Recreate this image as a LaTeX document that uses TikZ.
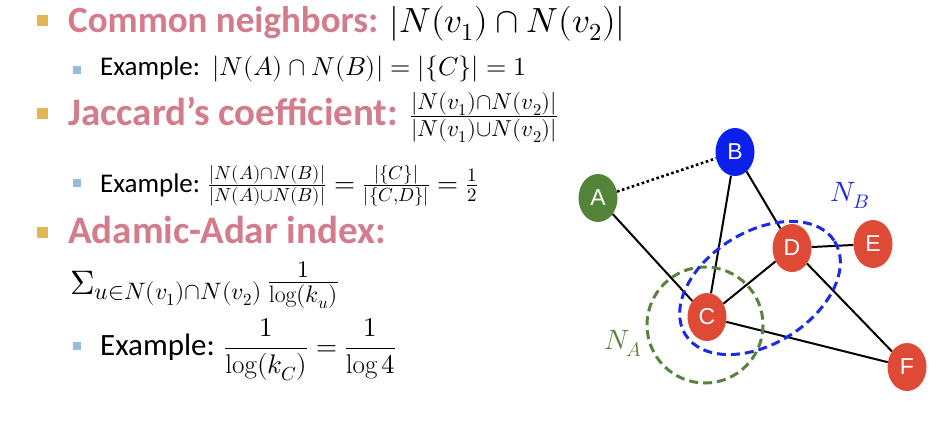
\documentclass[tikz,border=0pt]{standalone}
\usepackage{fontspec}
\usepackage{unicode-math}
\newfontfamily\slidefont{Carlito}
\newfontfamily\vertexfont{Liberation Sans}
\usetikzlibrary{shapes.geometric,positioning}

\definecolor{headpink}{RGB}{211,125,140}
\definecolor{bulletgold}{RGB}{226,182,82}
\definecolor{bulletblue}{RGB}{145,192,212}
\definecolor{vgreen}{RGB}{84,132,56}
\definecolor{vblue}{RGB}{12,32,236}
\definecolor{vred}{RGB}{222,74,54}
\definecolor{ringgreen}{RGB}{88,130,62}
\definecolor{ringblue}{RGB}{28,42,226}

\newcommand{\headsize}{\fontsize{37}{42}\selectfont}
\newcommand{\headbig}{\fontsize{39}{44}\selectfont}
\newcommand{\headmath}{\fontsize{35}{40}\selectfont}
\newcommand{\fracmath}{\fontsize{33}{38}\selectfont}
\newcommand{\summath}{\fontsize{34}{38}\selectfont}
\newcommand{\exsize}{\fontsize{27}{32}\selectfont}
\newcommand{\exmath}{\fontsize{26}{30}\selectfont}
\newcommand{\exbig}{\fontsize{31}{36}\selectfont}

\begin{document}
\begin{tikzpicture}[x=1pt,y=-1pt,
    bigbullet/.style={fill=bulletgold, minimum size=11pt, inner sep=0pt},
    smallbullet/.style={fill=bulletblue, minimum size=8pt, inner sep=0pt},
    textline/.style={anchor=base west, inner sep=0pt},
    vertex/.style={ellipse, minimum width=39pt, minimum height=48pt, inner sep=0pt,
        text=white, font=\vertexfont\fontsize{23}{26}\selectfont},
    link/.style={line width=2pt},
    ring/.style={line width=3pt, dash pattern=on 9pt off 5pt}]
        \useasboundingbox[fill=white] (0,0) rectangle (946,442);

        % Common neighbors
        \node[bigbullet] (b1) at (42,20) {};
        \node[textline] (h1) at (68,32) {\slidefont\headsize\textcolor{headpink}{\bfseries Common neighbors:} {\headmath$|N(v_1)\cap N(v_2)|$}};
        \node[smallbullet] (s1) at (76.5,70) {};
        \node[textline] (e1) at (100,75) {\slidefont\exsize Example:\ \ {\exmath$|N(A)\cap N(B)|=|\{C\}|=1$}};

        % Jaccard's coefficient
        \node[bigbullet] (b2) at (42,113) {};
        \node[textline] (h2) at (68,125) {\slidefont\headbig\textcolor{headpink}{\bfseries Jaccard’s coefficient:} {\fracmath$\frac{|N(v_1)\cap N(v_2)|}{|N(v_1)\cup N(v_2)|}$}};
        \node[smallbullet] (s2) at (76.5,183) {};
        \node[textline] (e2) at (100,192) {\slidefont\exsize Example: $\frac{|N(A)\cap N(B)|}{|N(A)\cup N(B)|}=\frac{|\{C\}|}{|\{C,D\}|}=\frac{1}{2}$};

        % Adamic-Adar index
        \node[bigbullet] (b3) at (42,232) {};
        \node[textline] (h3) at (68,243) {\slidefont\headbig\textcolor{headpink}{\bfseries Adamic-Adar index:}};
        \node[textline] (sum) at (70,291) {\summath$\mathop{\Sigma}\nolimits_{u\in N(v_1)\cap N(v_2)}\frac{1}{\log(k_u)}$};
        \node[smallbullet] (s3) at (76.5,346) {};
        \node[textline] (e3) at (100,355) {\slidefont\exbig Example: {\exsize$\dfrac{1}{\log(k_C)}=\dfrac{1}{\log 4}$}};

        % Graph vertices
        \node[vertex, fill=vgreen] (A) at (598,198) {A};
        \node[vertex, fill=vblue] (B) at (735,152) {B};
        \node[vertex, fill=vred] (C) at (707,317) {C};
        \node[vertex, fill=vred] (D) at (792,248) {D};
        \node[vertex, fill=vred] (E) at (873,244) {E};
        \node[vertex, fill=vred] (F) at (907,367) {F};

        % Graph edges
        \draw[link, line width=2.6pt, dash pattern=on 2.6pt off 2.6pt] (A) -- (B);
        \draw[link] (A) -- (C);
        \draw[link] (B) -- (C);
        \draw[link] (B) -- (D);
        \draw[link] (D) -- (E);
        \draw[link] (D) -- (C);
        \draw[link] (D) -- (F);
        \draw[link] (C) -- (F);

        % Neighborhoods
        \draw[ring, ringgreen] (705,325) circle (58);
        \draw[ring, ringblue, rotate around={32:(760,288)}] (760,288) ellipse [x radius=88, y radius=56];
        \node[text=ringblue, font=\fontsize{28}{30}\selectfont] (NB) at (850,195) {$N_B$};
        \node[text=ringgreen, font=\fontsize{28}{30}\selectfont] (NA) at (623,343) {$N_A$};
    \end{tikzpicture}
\end{document}
